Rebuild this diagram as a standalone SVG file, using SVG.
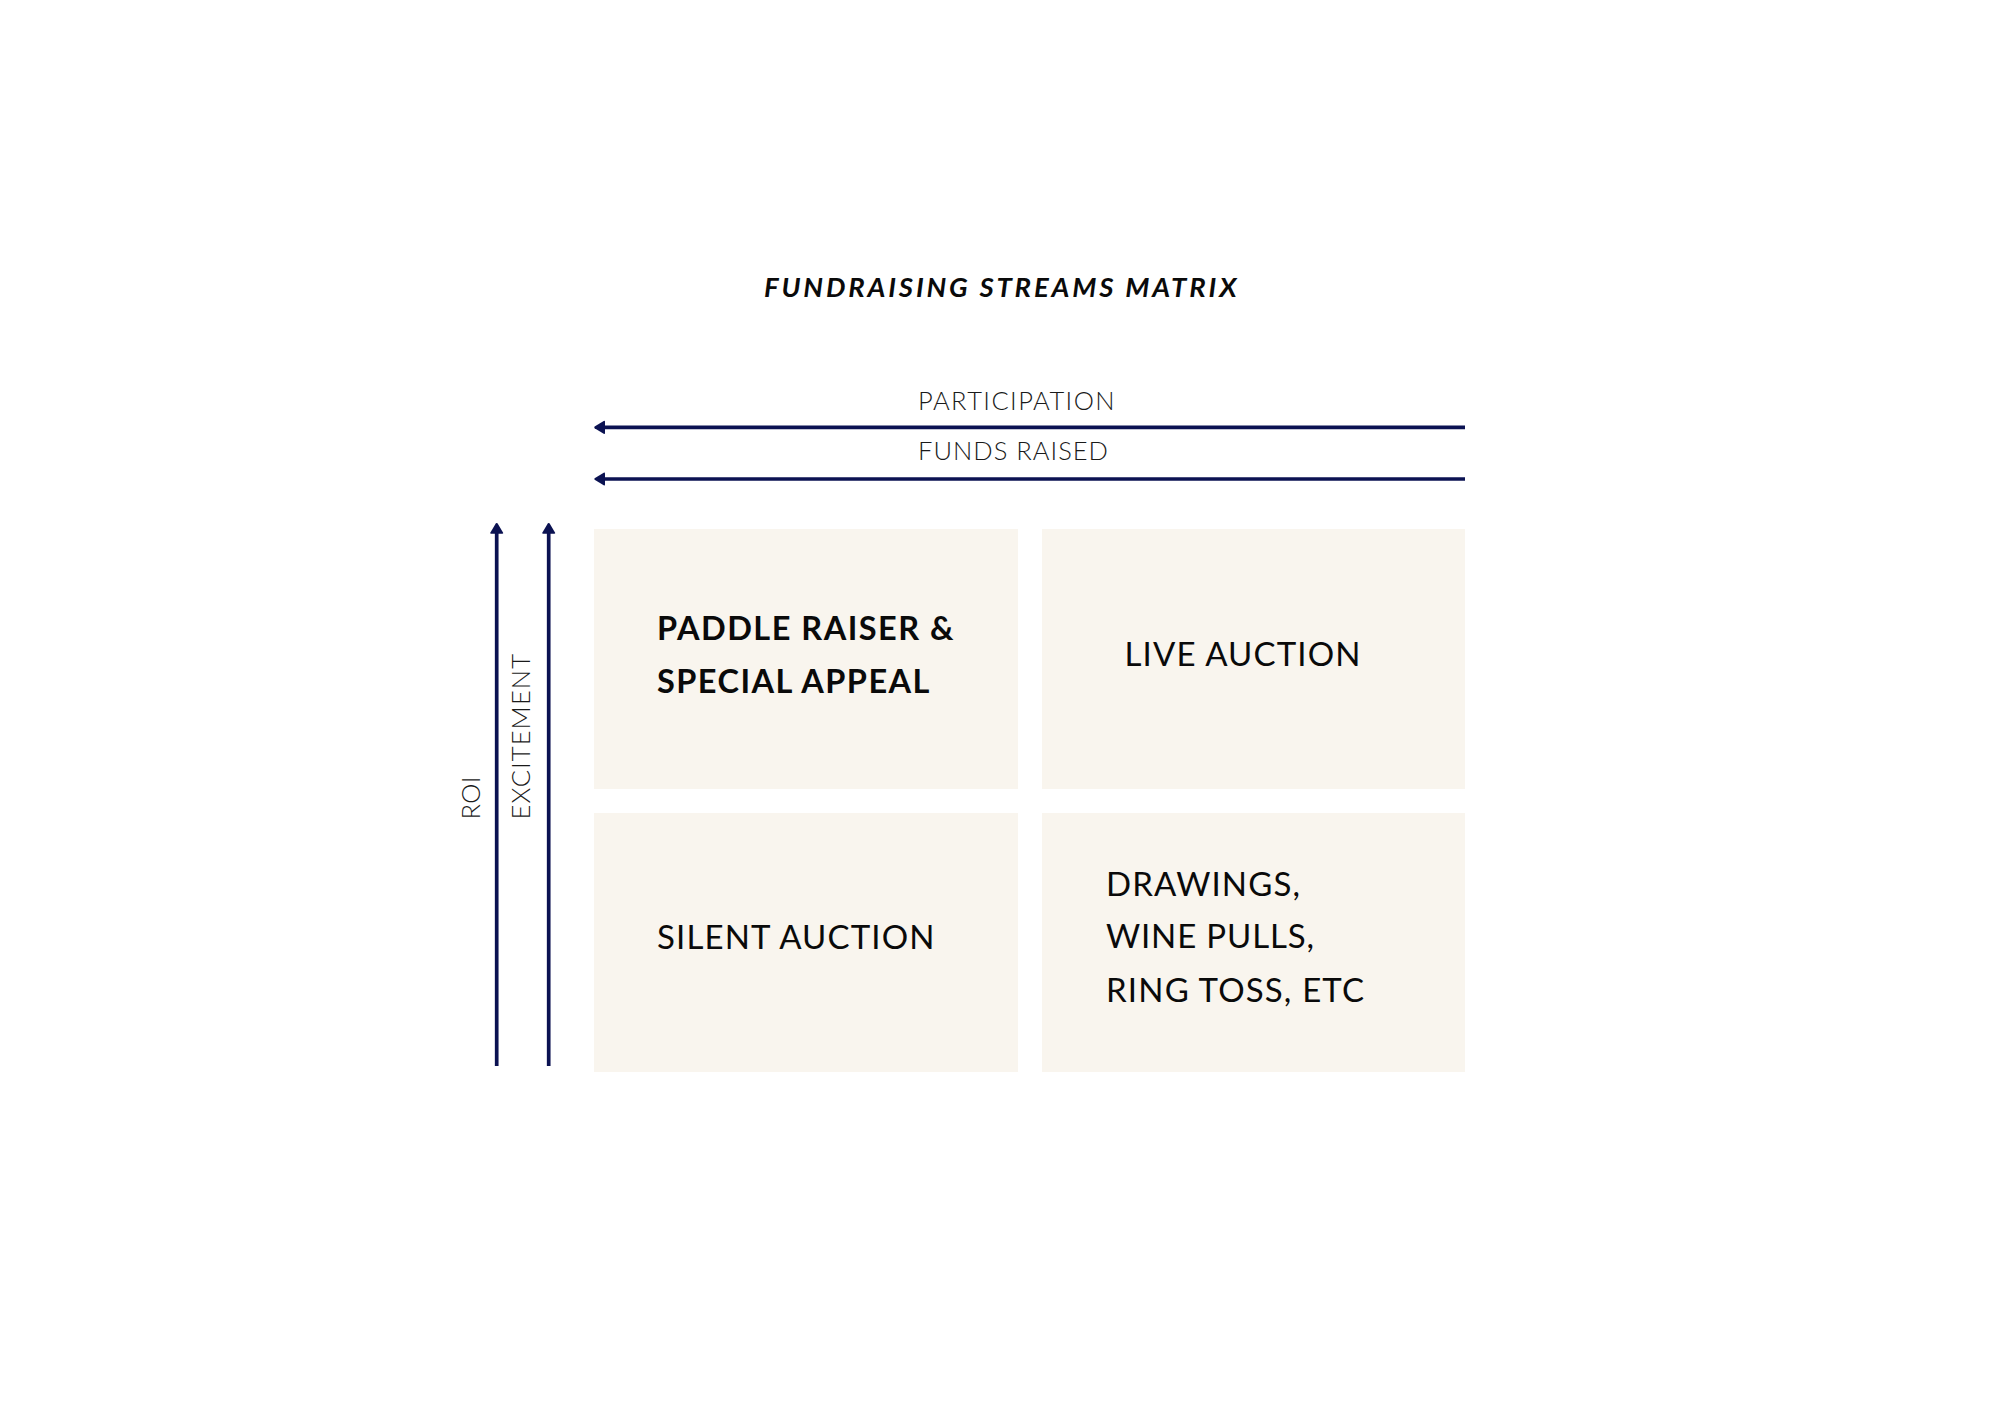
<svg xmlns="http://www.w3.org/2000/svg" width="2000" height="1414" viewBox="0 0 2000 1414">
  <style>
    .cell { fill: #f9f5ee; }
    .lbl { font-family: Lato, "Open Sans", "Liberation Sans", sans-serif; fill: #0a0a0a; }
    .title { font-size: 27.5px; font-weight: 700; font-style: italic; }
    .axis { font-size: 25.5px; font-weight: 300; fill: #1a1a1a; }
    .body { font-size: 33px; font-weight: 400; }
    .bold { font-size: 32.5px; font-weight: 700; }
    .conn { stroke: #0b1252; stroke-width: 3.7; fill: none; }
  </style>
  <defs>
    <marker id="ah" viewBox="0 0 11 14" refX="2" refY="7" markerWidth="11" markerHeight="14" markerUnits="userSpaceOnUse" orient="auto">
      <path d="M0,1.4 Q0,0 1.3,0.7 L10.4,6.2 Q11,7 10.4,7.8 L1.3,13.3 Q0,14 0,12.6 Z" fill="#0b1252"/>
    </marker>
  </defs>
  <rect width="2000" height="1414" fill="#ffffff"/>

  <g id="title">
    <text class="lbl title" x="764" y="297.3" textLength="472.5" lengthAdjust="spacing">FUNDRAISING STREAMS MATRIX</text>
  </g>

  <g id="connectors">
    <line class="conn" x1="1465" y1="427.4" x2="603" y2="427.4" marker-end="url(#ah)"/>
    <line class="conn" x1="1465" y1="479" x2="603" y2="479" marker-end="url(#ah)"/>
    <line class="conn" x1="496.7" y1="1066" x2="496.7" y2="531.7" marker-end="url(#ah)"/>
    <line class="conn" x1="548.7" y1="1066" x2="548.7" y2="531.7" marker-end="url(#ah)"/>
  </g>

  <g id="axis-participation">
    <text class="lbl axis" x="918" y="409.5" textLength="196.5" lengthAdjust="spacing">PARTICIPATION</text>
  </g>
  <g id="axis-funds">
    <text class="lbl axis" x="918" y="460" textLength="190" lengthAdjust="spacing">FUNDS RAISED</text>
  </g>
  <g id="axis-roi">
    <text class="lbl axis" transform="translate(480,819.5) rotate(-90)" x="0" y="0" textLength="43" lengthAdjust="spacing">ROI</text>
  </g>
  <g id="axis-excitement">
    <text class="lbl axis" transform="translate(530,819.5) rotate(-90)" x="0" y="0" textLength="165.5" lengthAdjust="spacing">EXCITEMENT</text>
  </g>

  <g id="node-paddle">
    <rect class="cell" x="594" y="529" width="424" height="260"/>
    <text class="lbl bold" x="657" y="640" textLength="296.5" lengthAdjust="spacing">PADDLE RAISER &amp;</text>
    <text class="lbl bold" x="657" y="692.7" textLength="272.5" lengthAdjust="spacing">SPECIAL APPEAL</text>
  </g>

  <g id="node-live">
    <rect class="cell" x="1042" y="529" width="423" height="260"/>
    <text class="lbl body" x="1124.5" y="665.5" textLength="236" lengthAdjust="spacing">LIVE AUCTION</text>
  </g>

  <g id="node-silent">
    <rect class="cell" x="594" y="813" width="424" height="259"/>
    <text class="lbl body" x="657" y="948.5" textLength="277.5" lengthAdjust="spacing">SILENT AUCTION</text>
  </g>

  <g id="node-drawings">
    <rect class="cell" x="1042" y="813" width="423" height="259"/>
    <text class="lbl body" x="1106" y="895.7" textLength="194" lengthAdjust="spacing">DRAWINGS,</text>
    <text class="lbl body" x="1106" y="948.3" textLength="208" lengthAdjust="spacing">WINE PULLS,</text>
    <text class="lbl body" x="1106" y="1001.7" textLength="258" lengthAdjust="spacing">RING TOSS, ETC</text>
  </g>
</svg>
